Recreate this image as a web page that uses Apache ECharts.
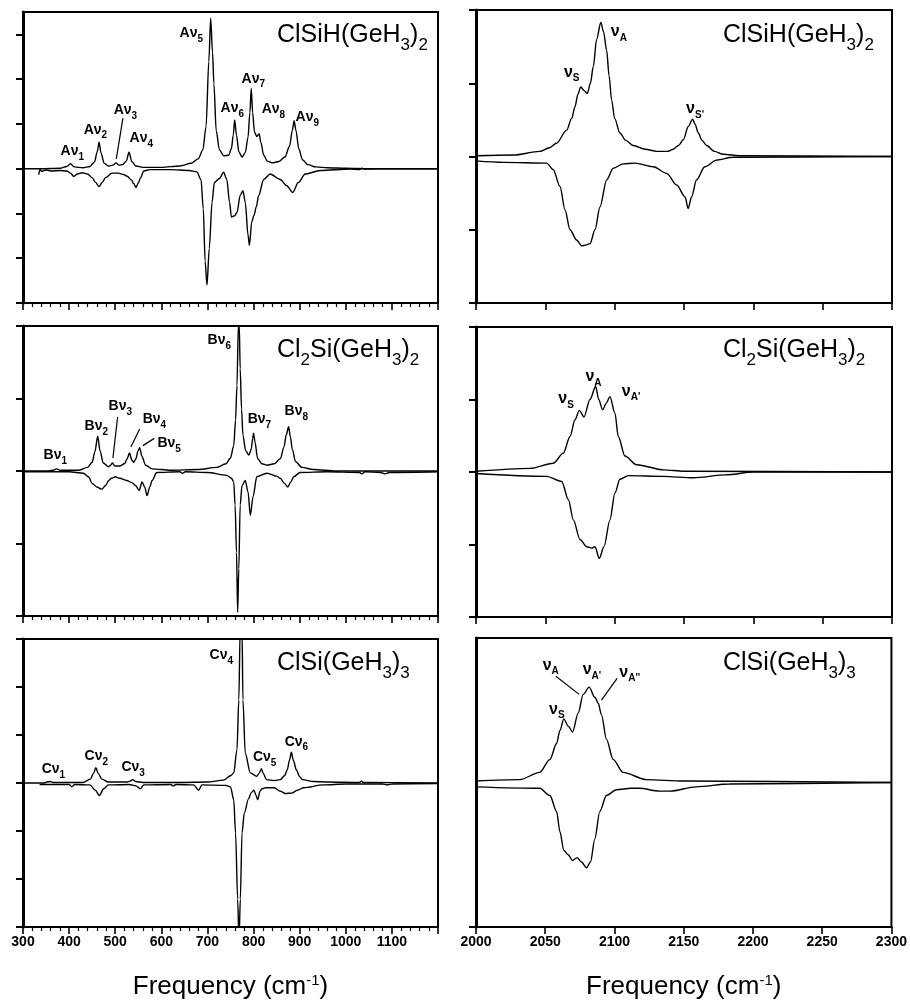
<!DOCTYPE html>
<html><head><meta charset="utf-8">
<script src="https://cdn.jsdelivr.net/npm/echarts@6/dist/echarts.min.js"></script>
<style>html,body{margin:0;padding:0;background:#fff}#c{width:910px;height:1001px}</style>
</head><body><div id="c"></div>
<script>
// ---------- DATA (frequency cm-1, relative intensity) ----------
// Panel A : ClSiH(GeH3)2, low-frequency region
const A_L_calc = [[300,0],[340,0],[380,0.01],[395,0.05],[403,0.11],[411,0.04],[430,0.02],[445,0.05],[455,0.15],[461,0.38],[465,0.59],[469,0.36],[476,0.12],[486,0.06],[495,0.08],[502,0.13],[508,0.08],[516,0.09],[524,0.17],[530,0.37],[536,0.16],[545,0.06],[560,0.03],[600,0.03],[640,0.06],[665,0.12],[680,0.22],[690,0.42],[697,0.94],[703,2.4],[707,3.36],[711,2.6],[714,1.9],[719,0.85],[726,0.42],[735,0.29],[746,0.3],[752,0.45],[756,0.75],[759,1.09],[763,0.75],[768,0.38],[775,0.26],[782,0.36],[788,0.7],[792,1.25],[795,1.79],[798,1.25],[802,0.82],[807,0.72],[812,0.78],[816,0.58],[822,0.3],[830,0.17],[840,0.13],[855,0.16],[868,0.26],[878,0.5],[884,0.85],[888,1.07],[892,0.85],[898,0.45],[906,0.2],[918,0.09],[935,0.04],[960,0.02],[1000,0.01],[1050,0],[1200,0]];
const A_L_expt = [[334,-0.13],[337,-0.02],[341,-0.06],[350,-0.03],[361,-0.05],[380,-0.04],[395,-0.05],[403,-0.1],[410,-0.17],[418,-0.12],[428,-0.09],[440,-0.12],[450,-0.2],[457,-0.3],[465,-0.4],[472,-0.3],[479,-0.2],[493,-0.1],[507,-0.1],[518,-0.13],[526,-0.17],[535,-0.25],[540,-0.33],[545,-0.42],[550,-0.32],[555,-0.2],[562,-0.05],[575,-0.02],[620,-0.02],[660,-0.04],[677,-0.07],[686,-0.24],[691,-0.9],[695,-2.07],[699,-2.6],[704,-1.78],[710,-0.75],[715,-0.31],[726,-0.22],[735,-0.08],[742,-0.24],[748,-0.75],[752,-1.08],[759,-1.05],[764,-0.98],[771,-0.6],[777,-0.49],[782,-0.75],[788,-1.48],[791,-1.71],[796,-1.19],[801,-1.04],[806,-0.85],[811,-0.6],[822,-0.24],[836,-0.12],[858,-0.24],[872,-0.38],[885,-0.53],[897,-0.31],[912,-0.12],[945,-0.04],[1010,-0.01],[1030,-0.02],[1035,0.01],[1040,-0.01],[1100,0],[1200,0]];
// Panel B : Cl2Si(GeH3)2, low-frequency region
const B_L_calc = [[300,0],[350,0],[365,0.01],[373,0.03],[381,0.01],[420,0.01],[440,0.05],[450,0.12],[456,0.27],[462,0.48],[467,0.28],[474,0.11],[485,0.06],[490,0.08],[494,0.11],[499,0.07],[510,0.07],[520,0.1],[526,0.17],[531,0.25],[536,0.15],[540,0.12],[545,0.17],[549,0.27],[553,0.32],[558,0.2],[566,0.08],[580,0.03],[620,0.01],[680,0.02],[720,0.05],[740,0.1],[750,0.18],[757,0.35],[761,0.7],[764,1.18],[767,2.0],[768,2.6],[769,2.0],[771,1.41],[774,0.85],[777,0.49],[783,0.28],[790,0.22],[795,0.3],[798,0.45],[800,0.52],[803,0.4],[809,0.17],[818,0.1],[829,0.08],[845,0.1],[858,0.17],[866,0.33],[871,0.5],[876,0.61],[880,0.47],[884,0.3],[891,0.13],[905,0.05],[930,0.02],[980,0],[1200,0]];
const B_L_expt = [[300,-0.01],[400,-0.01],[431,-0.03],[442,-0.08],[450,-0.17],[460,-0.22],[471,-0.25],[479,-0.2],[486,-0.13],[492,-0.1],[500,-0.08],[510,-0.1],[525,-0.13],[536,-0.16],[544,-0.2],[552,-0.27],[558,-0.15],[564,-0.22],[569,-0.34],[575,-0.22],[580,-0.13],[590,-0.02],[640,-0.01],[646,-0.03],[652,-0.01],[700,-0.02],[742,-0.06],[752,-0.1],[757,-0.15],[760,-0.47],[763,-1.12],[765.5,-1.95],[768,-1.35],[771,-0.47],[775,-0.2],[782,-0.13],[788,-0.29],[793,-0.61],[799,-0.35],[807,-0.08],[829,-0.03],[850,-0.07],[858,-0.1],[867,-0.17],[874,-0.22],[881,-0.15],[887,-0.08],[901,-0.02],[960,-0.01],[1030,-0.02],[1035,-0.04],[1042,-0.01],[1075,-0.02],[1085,-0.04],[1095,-0.02],[1200,-0.01]];
// Panel C : ClSi(GeH3)3, low-frequency region
const C_L_calc = [[300,0],[345,0],[352,0.02],[359,0.03],[366,0.01],[430,0.01],[446,0.08],[453,0.2],[458,0.32],[463,0.2],[471,0.08],[485,0.02],[525,0.02],[532,0.04],[538,0.07],[544,0.03],[560,0.01],[640,0.01],[700,0.02],[735,0.06],[750,0.15],[757,0.21],[764,0.69],[768,1.73],[771,3.2],[773,3.6],[775,3.2],[777,1.73],[782,0.62],[793,0.21],[807,0.14],[812,0.2],[817,0.3],[821,0.2],[828,0.07],[845,0.05],[858,0.07],[867,0.15],[873,0.27],[878,0.48],[882,0.64],[886,0.48],[893,0.27],[900,0.13],[906,0.07],[930,0.03],[960,0.02],[1030,0.01],[1034,0.04],[1038,0.01],[1200,0]];
const C_L_expt = [[336,-0.03],[400,-0.03],[406,-0.08],[412,-0.03],[445,-0.04],[457,-0.15],[465.5,-0.26],[475,-0.12],[485,-0.04],[530,-0.03],[545,-0.06],[554,-0.12],[562,-0.04],[620,-0.03],[626,-0.06],[632,-0.03],[670,-0.04],[681,-0.15],[688,-0.04],[740,-0.05],[750,-0.08],[757,-0.35],[761,-1.04],[765.5,-2.42],[768.5,-3.3],[771.3,-2.42],[775,-1.04],[780,-0.62],[789,-0.33],[795,-0.2],[801,-0.15],[805,-0.25],[809,-0.35],[814,-0.17],[818,-0.12],[825.5,-0.1],[845,-0.1],[858,-0.17],[869,-0.22],[883,-0.21],[895,-0.15],[908.6,-0.1],[951,-0.04],[1000,-0.02],[1080,-0.02],[1090,-0.04],[1100,-0.02],[1200,-0.01]];
// Ge-H stretching region
const A_R_calc = [[2000,0.01],[2027,0.02],[2046,0.07],[2053,0.12],[2058,0.18],[2065.4,0.36],[2069,0.52],[2071.4,0.68],[2073.5,0.85],[2075.5,0.95],[2078,0.9],[2080.3,0.86],[2082.5,1.0],[2084.6,1.23],[2087,1.6],[2090,1.83],[2092,1.7],[2094.2,1.45],[2096,1.1],[2097.8,0.77],[2100,0.52],[2103.8,0.32],[2108,0.22],[2113.4,0.15],[2122,0.1],[2130.3,0.07],[2138,0.07],[2142.3,0.1],[2146,0.15],[2149.5,0.23],[2153.1,0.41],[2156.2,0.51],[2158,0.44],[2160.3,0.32],[2163,0.22],[2166.3,0.15],[2172,0.07],[2178.3,0.03],[2190,0.01],[2300,0]];
const A_R_expt = [[2000,-0.06],[2020,-0.08],[2051,-0.09],[2055.7,-0.18],[2060.6,-0.41],[2064.2,-0.73],[2067.8,-1.0],[2072.6,-1.14],[2076.2,-1.22],[2079,-1.21],[2082.2,-1.19],[2085.8,-1.0],[2089.4,-0.69],[2094.2,-0.32],[2099,-0.16],[2106.2,-0.1],[2114.6,-0.09],[2127.8,-0.14],[2137.5,-0.23],[2144.7,-0.39],[2150.7,-0.55],[2153,-0.71],[2155.5,-0.55],[2159,-0.32],[2165,-0.14],[2173.5,-0.05],[2185,-0.01],[2300,0]];
const B_R_calc = [[2000,0.01],[2039,0.05],[2055.7,0.12],[2063,0.26],[2067.8,0.49],[2071.4,0.72],[2074.5,0.85],[2077.9,0.76],[2082.2,1.0],[2086.3,1.18],[2088.5,1.0],[2091.3,0.86],[2094,0.95],[2096.6,1.04],[2100.2,0.81],[2102.6,0.49],[2107.4,0.22],[2115.9,0.1],[2135,0.03],[2150,0.01],[2300,0]];
const B_R_expt = [[2000,-0.02],[2051,-0.06],[2061.8,-0.13],[2066.6,-0.38],[2070.2,-0.66],[2075,-0.93],[2079.9,-1.03],[2083.5,-1.05],[2085.8,-1.03],[2088.9,-1.19],[2092.3,-1.03],[2096.6,-0.66],[2100.2,-0.29],[2103.8,-0.1],[2110,-0.05],[2135,-0.06],[2156.7,-0.08],[2180,-0.04],[2200,0],[2300,0]];
const C_R_calc = [[2000,0.01],[2031.7,0.02],[2046,0.07],[2053.4,0.16],[2058.2,0.27],[2060.6,0.36],[2063.4,0.44],[2066.6,0.39],[2069.7,0.35],[2073.8,0.48],[2077.4,0.61],[2081.7,0.66],[2085.8,0.59],[2088.2,0.55],[2090.6,0.47],[2094.2,0.3],[2099,0.16],[2106.2,0.07],[2123,0.02],[2150,0.01],[2300,0]];
const C_R_expt = [[2000,-0.03],[2046,-0.04],[2053.4,-0.09],[2058.2,-0.2],[2060.6,-0.34],[2063.4,-0.47],[2066.6,-0.5],[2069.7,-0.54],[2073,-0.52],[2076.2,-0.55],[2079.8,-0.59],[2082.7,-0.55],[2085.8,-0.39],[2089.4,-0.2],[2094.2,-0.09],[2101.4,-0.05],[2112,-0.04],[2118,-0.04],[2132.7,-0.06],[2140,-0.06],[2159,-0.03],[2183,-0.01],[2300,0]];

// band labels: [prefix, subscript, x, y]
const A_L_labels = [['Aν','1',407,0.40],['Aν','2',457,0.87],['Aν','3',522,1.31],['Aν','4',556.5,0.69],['Aν','5',665,3.03],['Aν','6',754,1.35],['Aν','7',799.5,2.01],['Aν','8',843,1.33],['Aν','9',916.6,1.15]];
const B_L_labels = [['Bν','1',370,0.22],['Bν','2',459,0.62],['Bν','3',511,0.89],['Bν','4',585,0.72],['Bν','5',617,0.38],['Bν','6',725.7,1.81],['Bν','7',812.6,0.71],['Bν','8',892.7,0.83]];
const C_L_labels = [['Cν','1',366,0.28],['Cν','2',459,0.55],['Cν','3',539,0.32],['Cν','4',730,2.66],['Cν','5',824,0.53],['Cν','6',893,0.86]];
const A_R_labels = [['ν','S',2069,1.15],['ν','A',2103,1.70],['ν',"S'",2158,0.65]];
const B_R_labels = [['ν','S',2065,1.01],['ν','A',2084.7,1.31],['ν',"A'",2111.8,1.11]];
const C_R_labels = [['ν','A',2054,0.81],['ν',"A'",2083.7,0.78],['ν',"A''",2111,0.76],['ν','S',2058.4,0.505]];
// leader lines
const A_L_leaders = [[[516.7,1.13],[502.3,0.22]]];
const B_L_leaders = [[[505.2,0.745],[495,0.18]],[[553,0.58],[534,0.33]],[[584.7,0.45],[560,0.35]]];
const C_R_leaders = [[[2057.7,0.735],[2074.5,0.61]],[[2101.9,0.72],[2090.6,0.57]]];

// panel titles
const titles = [
  ['ClSiH(GeH','3',')','2'], ['Cl','2','Si(GeH','3',')','2'], ['ClSi(GeH','3',')','3']
];
const xTicksLeft = [300,400,500,600,700,800,900,1000,1100];
const xTicksRight = [2000,2050,2100,2150,2200,2250,2300];

// ---------- CHART ----------
const FONT = 'Arial, "Liberation Sans", Helvetica, sans-serif';
const panels = [
  {grid:{left:23,top:12,width:415,height:291}, x:[300,1200,100], y:[-3,3.5], yt:[-3,-2,-1,0,1,2,3], calc:A_L_calc, expt:A_L_expt, labels:A_L_labels, leaders:A_L_leaders, title:0, side:'L', bottom:false},
  {grid:{left:23,top:326,width:415,height:290}, x:[300,1200,100], y:[-2,2], yt:[-2,-1,0,1,2], calc:B_L_calc, expt:B_L_expt, labels:B_L_labels, leaders:B_L_leaders, title:1, side:'L', bottom:false},
  {grid:{left:23,top:639,width:415,height:289}, x:[300,1200,100], y:[-3,3], yt:[-3,-2,-1,0,1,2,3], calc:C_L_calc, expt:C_L_expt, labels:C_L_labels, leaders:[], title:2, side:'L', bottom:true},
  {grid:{left:476,top:10,width:416,height:293}, x:[2000,2300,50], y:[-2,2], yt:[-2,-1,0,1,2], calc:A_R_calc, expt:A_R_expt, labels:A_R_labels, leaders:[], title:0, side:'R', bottom:false},
  {grid:{left:476,top:327,width:416,height:290}, x:[2000,2300,50], y:[-2,2], yt:[-2,-1,0,1,2], calc:B_R_calc, expt:B_R_expt, labels:B_R_labels, leaders:[], title:1, side:'R', bottom:false},
  {grid:{left:476,top:638,width:416,height:292}, x:[2000,2300,50], y:[-1,1], yt:[-1], calc:C_R_calc, expt:C_R_expt, labels:C_R_labels, leaders:C_R_leaders, title:2, side:'R', bottom:true}
];
const titleCenters = [35, 350, 663];

const grid = [], xAxis = [], yAxis = [], series = [], title = [];
const labelRich = {
  b:{fontFamily:FONT,fontWeight:'bold',fontSize:14,color:'#000',lineHeight:14,verticalAlign:'top'},
  s:{fontFamily:FONT,fontWeight:'bold',fontSize:10,color:'#000',lineHeight:10,verticalAlign:'top',padding:[8,0,0,0]},
  g:{fontFamily:FONT,fontWeight:'bold',fontSize:16,color:'#000',lineHeight:16,verticalAlign:'top'},
  t:{fontFamily:FONT,fontWeight:'bold',fontSize:10,color:'#000',lineHeight:10,verticalAlign:'top',padding:[9,0,0,0]}
};
const titleRich = {
  m:{fontFamily:FONT,fontWeight:'normal',fontSize:25,color:'#000',lineHeight:25,verticalAlign:'top'},
  s:{fontFamily:FONT,fontWeight:'normal',fontSize:17,color:'#000',lineHeight:17,verticalAlign:'top',padding:[14,0,0,0]}
};
panels.forEach((p,i)=>{
  grid.push(Object.assign({show:true,borderColor:'#000',borderWidth:2,backgroundColor:'transparent'},p.grid));
  const left = p.side==='L';
  xAxis.push({
    type:'value', gridIndex:i, min:p.x[0], max:p.x[1], interval:p.x[2],
    axisLine:{show:true,onZero:false,lineStyle:{color:'#000',width:2}},
    axisTick:{show:true,inside:false,length:7,lineStyle:{color:'#000',width:1.6}},
    minorTick:{show:left,splitNumber:5,length:4,lineStyle:{color:'#000',width:1.2}},
    splitLine:{show:false}, minorSplitLine:{show:false},
    axisLabel:{show:p.bottom,color:'#000',fontFamily:FONT,fontWeight:'bold',fontSize:14,margin:8,
      formatter:v=>{const t=left?xTicksLeft:xTicksRight;return t.indexOf(v)>=0?String(v):'';}},
    name:p.bottom?'{a|Frequency (cm}{p|-1}{a|)}':'', nameLocation:'middle', nameGap:46,
    nameTextStyle:{rich:{a:{fontFamily:FONT,fontSize:26,color:'#000',lineHeight:28},p:{fontFamily:FONT,fontSize:15,color:'#000',verticalAlign:'top',lineHeight:15}}}
  });
  yAxis.push({
    type:'value', gridIndex:i, min:p.y[0], max:p.y[1], interval:1,
    axisLine:{show:true,onZero:false,lineStyle:{color:'#000',width:3}},
    axisTick:{show:true,inside:false,length:7,customValues:p.yt,lineStyle:{color:'#000',width:2}},
    axisLabel:{show:false}, splitLine:{show:false}
  });
  const lineBase = {type:'line',xAxisIndex:i,yAxisIndex:i,showSymbol:false,symbol:'none',smooth:0.3,smoothMonotone:'x',
    lineStyle:{color:'#000',width:1.4},silent:true,clip:true,z:3};
  series.push(Object.assign({},lineBase,{name:'calc'+i,data:p.calc}));
  series.push(Object.assign({},lineBase,{name:'expt'+i,data:p.expt}));
  p.leaders.forEach((seg,k)=>{
    series.push({type:'line',xAxisIndex:i,yAxisIndex:i,showSymbol:false,symbol:'none',data:seg,silent:true,
      lineStyle:{color:'#000',width:1.2},z:4});
  });
  series.push({type:'scatter',xAxisIndex:i,yAxisIndex:i,symbolSize:0,silent:true,z:5,
    itemStyle:{color:'#000',opacity:1},
    data:p.labels.map(l=>({value:[l[2],l[3]],
      label:{show:true,position:[0,0],align:'center',verticalAlign:'middle',color:'#000',opacity:1,
        formatter: left?('{b|'+l[0]+'}{s|'+l[1]+'}'):('{g|'+l[0]+'}{t|'+l[1]+'}'),rich:labelRich}})),
    label:{show:true,position:[0,0],align:'center',verticalAlign:'middle',color:'#000',opacity:1,rich:labelRich}
  });
  const tt = titles[p.title];
  let txt = '';
  tt.forEach((part,k)=>{ txt += (k%2===0?'{m|':'{s|')+part+'}'; });
  title.push({text:txt,left:left?277:723,top:titleCenters[p.title]-12,padding:0,
    textStyle:{fontWeight:'normal',color:'#000',rich:titleRich}});
});

const chart = echarts.init(document.getElementById('c'),null,{renderer:'canvas'});
chart.setOption({animation:false,backgroundColor:'#fff',title,grid,xAxis,yAxis,series});
</script></body></html>
